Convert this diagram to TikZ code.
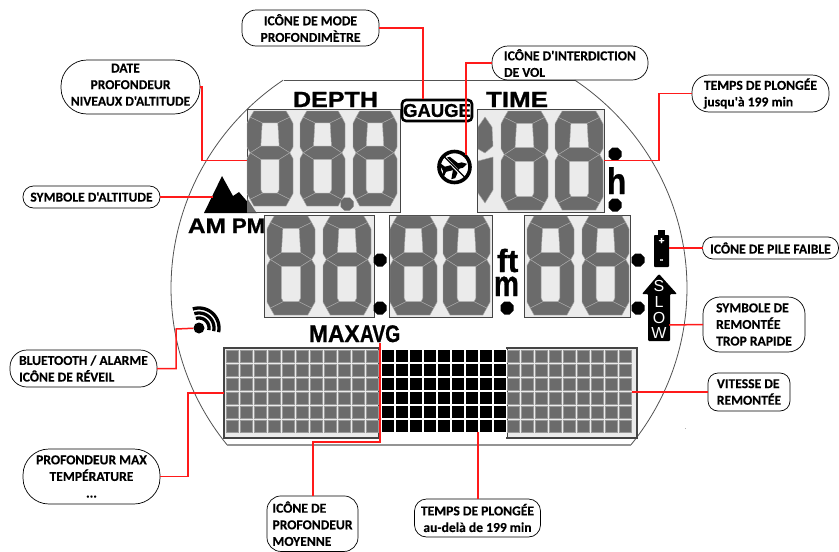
\documentclass[tikz,border=0pt]{standalone}
\usepackage{fontspec}
\usepackage{graphicx}
\newfontfamily\callfont{Carlito}[BoldFeatures={FakeBold=0.3}]
\newfontfamily\lcdfont{Liberation Sans}[BoldFeatures={FakeBold=1}]
\definecolor{lcdbg}{HTML}{EBEBEB}
\definecolor{seggray}{HTML}{6B6B6B}
\definecolor{seggap}{HTML}{A8A8A8}
\definecolor{cellrim}{HTML}{9A9A9A}
\definecolor{panelrim}{HTML}{444444}
\definecolor{leaderred}{HTML}{FF1A1A}
\tikzset{
  seg/.style={fill=seggray,draw=seggap,line width=0.45pt,line join=round},
  lcdpanel/.style={draw=panelrim,fill=lcdbg,line width=1pt,inner sep=0pt,outer sep=0pt},
  callout/.style={draw=black,line width=0.7pt,inner sep=0pt,outer sep=0pt,align=center,
    font=\callfont\bfseries\fontsize{13.6pt}{16.6pt}\selectfont},
  leader/.style={draw=leaderred,line width=1.5pt,line join=miter},
  lcdlabel/.style={inner sep=0pt,outer sep=0pt,anchor=base west,text=black},
  watch/.style={draw=black!68,line width=0.8pt},
  dotcell/.style={fill=seggray,draw=cellrim,line width=0.6pt},
  blackcell/.style={fill=black},
}
\newcommand\lcdseven[4]{%
 \begin{scope}[shift={(#1,#2)},x=#3pt,y=-#4pt]
 \draw[seg] (.15,0)--(.85,0)--(.93,.065)--(.67,.125)--(.33,.125)--(.07,.065)--cycle;
 \draw[seg] (.07,.065)--(.33,.125)--(.30,.37)--(.07,.44)--(0,.38)--(0,.13)--cycle;
 \draw[seg] (.93,.065)--(.67,.125)--(.70,.37)--(.93,.44)--(1,.38)--(1,.13)--cycle;
 \draw[seg] (.07,.44)--(.30,.37)--(.70,.37)--(.93,.44)--(.70,.51)--(.30,.51)--cycle;
 \draw[seg] (.07,.44)--(.30,.51)--(.30,.83)--(.34,.865)--(.07,.93)--(0,.87)--(0,.50)--cycle;
 \draw[seg] (.93,.44)--(.70,.51)--(.70,.83)--(.66,.865)--(.93,.93)--(1,.87)--(1,.50)--cycle;
 \draw[seg] (.07,.93)--(.34,.865)--(.66,.865)--(.93,.93)--(.85,1)--(.15,1)--cycle;
 \end{scope}}
\newcommand\lcddot[3][black]{%
 \fill[#1] ($(#2,#3)+(-6.5,-2.6)$)--++(3.9,-3.9)--++(5.2,0)--++(3.9,3.9)--++(0,5.2)--++(-3.9,3.9)--++(-5.2,0)--++(-3.9,-3.9)--cycle;}
\newcommand\lcdword[5]{%
 \node[lcdlabel,font=\lcdfont\bfseries\fontsize{#4pt}{#4pt}\selectfont] (#1) at (#2,#3) {\scalebox{#5}[1]{\lcdwordtext}};}
\usetikzlibrary{calc}
\begin{document}
\begin{tikzpicture}[x=1pt,y=-1pt]
\useasboundingbox (0,0) rectangle (839,552);
% watch outline
\draw[watch] (284,80) -- (575,80);
\draw[watch] plot[domain=-55.6:38.5,samples=70] ({429+258*cos(\x)},{288+252*sin(\x)});
\draw[watch] plot[domain=141.5:235.6,samples=70] ({429+258*cos(\x)},{288+252*sin(\x)});
\draw[draw=black!42,line width=1.4pt] (227,445) -- (631,445);
\fill[black!30] (685,427.5) rectangle (686,429);
% mountain
\fill[black] (204,213) -- (222,176) -- (233,196) -- (239,192) -- (257,213) -- cycle;
% panels
\node[lcdpanel,minimum width=153pt,minimum height=103pt] (depthpanel) at (323.5,160.5) {};
\node[lcdpanel,minimum width=127pt,minimum height=103pt] (timepanel) at (540.5,160.5) {};
\node[lcdpanel,minimum width=110pt,minimum height=102pt] (rowa) at (319,266) {};
\node[lcdpanel,minimum width=103pt,minimum height=102pt] (rowb) at (440.5,266) {};
\node[lcdpanel,minimum width=106pt,minimum height=102pt] (rowc) at (577,266) {};
\node[lcdpanel,minimum width=155pt,minimum height=90pt,line width=1.2pt,fill=lcdbg] (matleft) at (301.5,393) {};
\node[lcdpanel,minimum width=130pt,minimum height=90pt,line width=1.2pt] (matright) at (572,393) {};
\fill[seggray] (247,198) -- (256,212) -- (247,212) -- cycle;
% digits
\lcdseven{247}{111}{46}{95}
\lcdseven{300}{111}{45}{95}
\lcdseven{353}{111}{44}{95}
\lcddot[seggray]{347}{204}
\draw[seg] (478,127)--(485,117)--(492,127)--(493,146)--(485,153)--(478,149)--cycle;
\draw[seg] (478,161)--(493,157)--(493,190)--(485,203)--(478,193)--cycle;
\lcdseven{501}{111}{47}{99}
\lcdseven{555}{111}{48}{99}
\lcdseven{267}{216}{48}{99}
\lcdseven{323}{216}{48}{99}
\lcdseven{390}{216}{47}{99}
\lcdseven{443}{216}{47}{99}
\lcdseven{527}{216}{47}{99}
\lcdseven{582}{216}{47}{99}
% separators
\lcddot{615}{154}
\lcddot{615}{205}
\lcddot{380}{260}
\lcddot{380}{308}
\lcddot{507}{308}
\lcddot{638}{260}
\lcddot{638}{308}
% dot matrix
\fill[white] (379.5,349) rectangle (506.5,437);
\foreach \c in {0,...,10}\foreach \r in {0,...,5}
  \filldraw[dotcell] ({226.7+14*\c},{350.7+14*\r}) rectangle ++(11.6,11.6);
\foreach \c in {0,...,8}\foreach \r in {0,...,5}
  \fill[blackcell] ({381.7+14*\c},{350.2+14*\r}) rectangle ++(12.1,12.2);
\foreach \c in {0,...,8}\foreach \r in {0,...,5}
  \filldraw[dotcell] ({507.7+14*\c},{350.7+14*\r}) rectangle ++(11.6,11.6);
% printed LCD words
\def\lcdwordtext{DEPTH}\lcdword{depthword}{293}{107}{22}{1.14}
\def\lcdwordtext{TIME}\lcdword{timeword}{486}{107}{22}{1.18}
\def\lcdwordtext{AM}\lcdword{amword}{188}{233}{21}{1.16}
\def\lcdwordtext{PM}\lcdword{pmword}{232}{233}{21}{1.05}
\def\lcdwordtext{MAX}\lcdword{maxword}{309}{342}{24}{0.95}
\def\lcdwordtext{AVG}\lcdword{avgword}{360}{342}{24}{0.8}
\def\lcdwordtext{ft}\lcdword{ftword}{497}{272}{32}{1}
\def\lcdwordtext{m}\lcdword{mword}{494}{296}{36}{0.78}
\def\lcdwordtext{h}\lcdword{hword}{607}{194}{37}{0.85}
\node[draw=black,line width=2.6pt,rounded corners=4pt,minimum width=70pt,minimum height=21pt,inner sep=0pt,
  font=\lcdfont\bfseries\fontsize{18.5pt}{18.5pt}\selectfont] (gaugebox) at (437,110.5) {GAUGE};
% no-fly icon
\begin{scope}[shift={(454.5,167)}]
\begin{scope}[rotate=14]
\fill[black] (-12,-2.6) -- (8,-2.8) -- (13,0) -- (8,2.8) -- (-12,2.6) -- cycle;
\fill[black] (5,-2) -- (-2,-11) -- (-6,-11) -- (-2,-2) -- cycle;
\fill[black] (5,2) -- (-2,11) -- (-6,11) -- (-2,2) -- cycle;
\fill[black] (-8,-1) -- (-12,-6) -- (-14,-6) -- (-12,1) -- (-14,6) -- (-12,6) -- (-8,1) -- cycle;
\end{scope}
\draw[white,line width=2.6pt] (-10,-10) -- (10.5,11.5);
\draw[black,line width=1.2pt] (-10.5,-10.5) -- (11,11);
\draw[black,line width=3.6pt] (0,0) circle[radius=15.5];
\end{scope}
% wireless icon
\node[circle,fill=black,minimum size=11pt,inner sep=0pt] (wifidot) at (199,328) {};
\foreach \rad in {10,15,20}
  \draw[black,line width=3.3pt] plot[domain=-108:12,samples=24] ({199+\rad*cos(\x)},{328+\rad*sin(\x)});
% battery
\fill[black] (658,230) rectangle (665,236);
\fill[black,rounded corners=0.8pt] (654,235) rectangle (669,267);
\node[inner sep=0pt,text=white,font=\lcdfont\bfseries\fontsize{10pt}{10pt}\selectfont] (battplus) at (661.5,241) {+};
\node[inner sep=0pt,text=white,font=\lcdfont\bfseries\fontsize{10pt}{10pt}\selectfont] (battminus) at (661.5,261) {-};
\coordinate (battery) at (669,248);
% slow arrow
\fill[black,rounded corners=1pt] (659,274) -- (677,294) -- (670,294) -- (670,341) -- (648,341) -- (648,294) -- (642,294) -- cycle;
\foreach \n/\t/\yy in {sl/S/285.5,ll/L/302,ol/O/317.5,wl/W/332.5}
  \node[inner sep=0pt,text=white,font=\lcdfont\fontsize{16pt}{16pt}\selectfont] (\n) at (659,\yy) {\t};
\coordinate (slowarrow) at (669,325);
% callouts
\node[callout,minimum width=137pt,minimum height=36pt,rounded corners=14pt] (mode) at (310.5,28) {ICÔNE DE MODE\\PROFONDIMÈTRE};
\node[callout,minimum width=139pt,minimum height=54pt,rounded corners=26pt] (date) at (130.5,87) {DATE\hspace*{10pt}\\PROFONDEUR\hspace*{8pt}\\NIVEAUX D'ALTITUDE\\[-12pt]~};
\node[callout,minimum width=137pt,minimum height=22pt,rounded corners=10.5pt] (altsym) at (91.5,197) {SYMBOLE D'ALTITUDE};
\node[callout,minimum width=156pt,minimum height=34pt,rounded corners=16pt,align=left] (nofly) at (570,63) {ICÔNE D'INTERDICTION\\DE VOL};
\node[callout,minimum width=137pt,minimum height=37pt,rounded corners=17pt,align=left] (divetime) at (760.5,93.5) {TEMPS DE PLONGÉE\\jusqu'à 199 min};
\node[callout,minimum width=136pt,minimum height=22pt,rounded corners=10.5pt] (battlabel) at (770.5,248) {ICÔNE DE PILE FAIBLE};
\node[callout,minimum width=102pt,minimum height=55pt,rounded corners=17pt,align=left] (fastsym) at (754,324.5) {SYMBOLE DE\\REMONTÉE\\TROP RAPIDE};
\node[callout,minimum width=82pt,minimum height=38pt,rounded corners=10pt,align=left] (speed) at (749,392) {VITESSE DE\\REMONTÉE};
\node[callout,minimum width=126pt,minimum height=38pt,rounded corners=12pt] (divelong) at (477.5,518) {TEMPS DE PLONGÉE\\au-delà de 199 min};
\node[callout,minimum width=147pt,minimum height=37pt,rounded corners=17pt,align=left] (blue) at (83.5,368.5) {BLUETOOTH / ALARME\\ICÔNE DE RÉVEIL};
\node[callout,minimum width=137pt,minimum height=55pt,rounded corners=26pt] (maxdepth) at (91.5,476.5) {PROFONDEUR MAX\\TEMPÉRATURE\\...};
\node[callout,minimum width=91pt,minimum height=55.5pt,rounded corners=14pt,align=left] (avgdepth) at (312.5,523.7) {ICÔNE DE\\PROFONDEUR\\MOYENNE};
% connector bends and free ends
\coordinate (gaugetop) at (423,99);
\coordinate (dateK) at (202,160.5);
\coordinate (altend) at (213,197);
\coordinate (noflyend) at (466,155);
\coordinate (timeK) at (659,160.5);
\coordinate (speedend) at (632,392);
\coordinate (longend) at (478,432);
\coordinate (avgend) at (380,343);
\coordinate (avgK) at (313,442);
\coordinate (maxK) at (188,393);
\coordinate (blueK) at (176,329);
% connectors
\draw[leader] (mode.east) -| (gaugetop);
\draw[leader] (date.east) -- ++(2,0) -- (dateK) -- (depthpanel.west);
\draw[leader] (altsym.east) -- (altend);
\draw[leader] (nofly.west) -| (noflyend);
\draw[leader] (divetime.west) -| (timeK) -- (timepanel.east);
\draw[leader] (battlabel.west) -- (battery);
\draw[leader] (fastsym.west) -- (slowarrow);
\draw[leader] (speed.west) -- (speedend);
\draw[leader] (divelong.north -| longend) -- (longend);
\draw[leader] (avgend) |- (avgK) -- (avgdepth.north -| avgK);
\draw[leader] (maxdepth.east) -| (maxK) -- (matleft.west |- maxK);
\draw[leader] (blue.east) -| (blueK) -- (wifidot);
\end{tikzpicture}
\end{document}
